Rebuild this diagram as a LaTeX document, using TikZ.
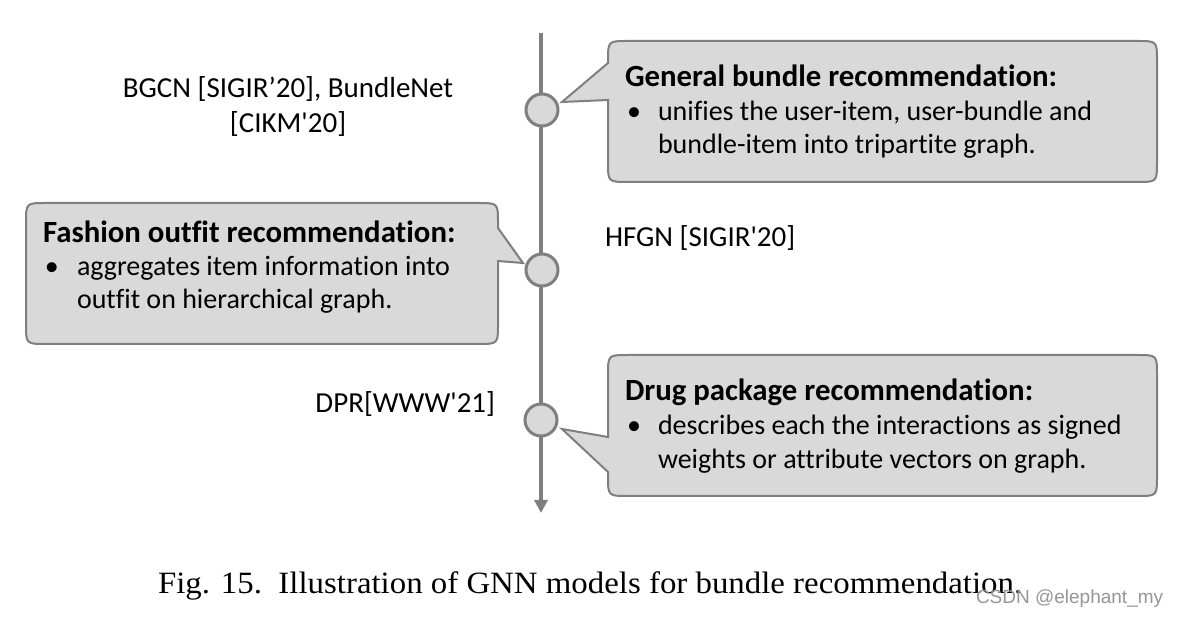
\documentclass[tikz,border=0pt]{standalone}
\usepackage{fontspec}
\newfontfamily\carl{Carlito}[RawFeature={-liga}]
\newfontfamily\capfont{Liberation Serif}[FakeStretch=1.06]
\newfontfamily\wmfont{Liberation Sans}
\usetikzlibrary{arrows.meta,calc}
\definecolor{boxfill}{RGB}{217,217,217}
\definecolor{boxline}{RGB}{127,127,127}
\definecolor{wmgray}{RGB}{150,150,150}
\begin{document}
\begin{tikzpicture}[x=1pt,y=-1pt,
  every node/.style={inner sep=0pt, outer sep=0pt},
  callout/.style={fill=boxfill, draw=boxline, line width=2pt, line join=miter},
  dot/.style={circle, fill=boxfill, draw=boxline, line width=3pt, minimum size=32pt},
  body/.style={font=\carl\fontsize{28}{33}\selectfont, anchor=base west},
  title/.style={font=\carl\fontsize{30.8}{36}\selectfont\bfseries, anchor=base west},
  lbl/.style={font=\carl\fontsize{29}{34}\selectfont}
]
\useasboundingbox (0,0) rectangle (1179,617);
% timeline
\coordinate (tltop) at (541,33);
\coordinate (tlbot) at (541,513);
\draw[boxline, line width=4pt, -{Triangle[length=13pt,width=13pt]}] (tltop) -- (tlbot);
\node[dot] (n1) at (542,110) {};
\node[dot] (n2) at (542,270) {};
\node[dot] (n3) at (541,420) {};
\coordinate (p1) at ($(n1.center)+(20,-8)$);
\coordinate (p2) at ($(n2.center)+(-19,-7)$);
\coordinate (p3) at ($(n3.center)+(21,9)$);
% callout 1
\draw[callout] (608,100) -- (608,162) .. controls (608,182) .. (628,182) -- (1137,182)
  .. controls (1157,182) .. (1157,162) -- (1157,61) .. controls (1157,41) .. (1137,41)
  -- (628,41) .. controls (608,41) .. (608,61) -- (608,63) -- (p1) -- cycle;
% callout 2
\draw[callout] (498,261) -- (498,324) .. controls (498,344) .. (478,344) -- (46,344)
  .. controls (26,344) .. (26,324) -- (26,223) .. controls (26,203) .. (46,203)
  -- (478,203) .. controls (498,203) .. (498,223) -- (498,228) -- (p2) -- cycle;
% callout 3
\draw[callout] (608,437) -- (608,375) .. controls (608,355) .. (628,355) -- (1137,355)
  .. controls (1157,355) .. (1157,375) -- (1157,476) .. controls (1157,496) .. (1137,496)
  -- (628,496) .. controls (608,496) .. (608,476) -- (608,472) -- (p3) -- cycle;
% callout texts
\node[title] (h1) at (625,87) {General bundle recommendation:};
\node[body] (u1) at (627,121) {•};
\node[body] (l1a) at (658,121) {unifies the user-item, user-bundle and};
\node[body] (l1b) at (658,154) {bundle-item into tripartite graph.};
\node[title] (h2) at (43,243) {Fashion outfit recommendation:};
\node[body] (u2) at (45,276) {•};
\node[body] (l2a) at (77,276) {aggregates item information into};
\node[body] (l2b) at (77,309) {outfit on hierarchical graph.};
\node[title] (h3) at (625,401) {Drug package recommendation:};
\node[body] (u3) at (627,435) {•};
\node[body] (l3a) at (658,435) {describes each the interactions as signed};
\node[body] (l3b) at (658,469) {weights or attribute vectors on graph.};
% side labels
\node[lbl, anchor=base] (m1a) at (288,98) {BGCN [SIGIR’20], BundleNet};
\node[lbl, anchor=base] (m1b) at (288,133) {[CIKM'20]};
\node[lbl, anchor=base west] (m2) at (605,247) {HFGN [SIGIR'20]};
\node[lbl, anchor=base east] (m3) at (495,413) {DPR[WWW'21]};
% caption and watermark
\node[font=\capfont\fontsize{31}{36}\selectfont, anchor=base west] (cap) at (158,593) {Fig. 15.\ \ Illustration of GNN models for bundle recommendation.};
\node[font=\wmfont\fontsize{19}{23}\selectfont, text=wmgray, anchor=base west] (wm) at (976,603) {CSDN @elephant\_my};
\end{tikzpicture}
\end{document}
